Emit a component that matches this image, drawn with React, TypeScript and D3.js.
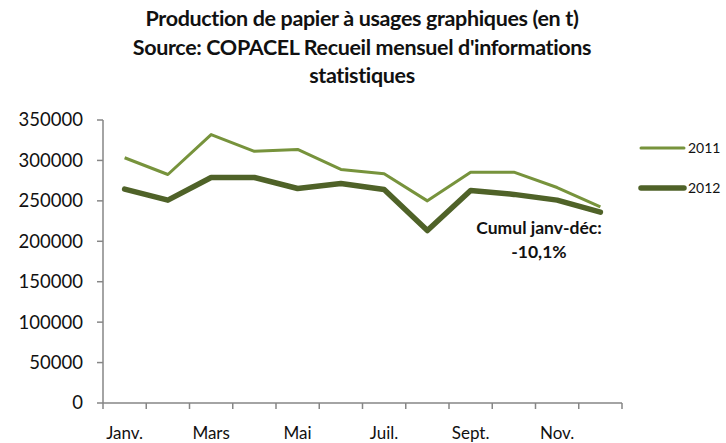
import React from "react";
import * as d3 from "d3";

const months = ["Janv.", "Févr.", "Mars", "Avr.", "Mai", "Juin", "Juil.", "Août", "Sept.", "Oct.", "Nov.", "Déc."];
const shownLabels = ["Janv.", "Mars", "Mai", "Juil.", "Sept.", "Nov."];
const values2011 = [303300, 282600, 332000, 311200, 313600, 288800, 283500, 250000, 285500, 285500, 266500, 242600];
const values2012 = [264500, 250900, 278900, 278900, 265300, 271500, 264000, 213300, 262800, 258000, 250900, 236000];
const yTicks = [0, 50000, 100000, 150000, 200000, 250000, 300000, 350000];
const titleLines = [
  "Production de papier à usages graphiques (en t)",
  "Source: COPACEL Recueil mensuel d'informations",
  "statistiques",
];
const annotation = ["Cumul janv-déc:", "-10,1%"];
const seriesNames = ["2011", "2012"];

export default function App() {
  const W = 726, H = 443;
  const left = 103, right = 622, top = 120, bottom = 403;
  const x = d3.scaleBand<string>().domain(months).range([left, right]).padding(0);
  const y = d3.scaleLinear().domain([0, 350000]).range([bottom, top]);
  const cx = (m: string) => (x(m) as number) + x.bandwidth() / 2;
  const line = d3
    .line<number>()
    .x((_, i) => cx(months[i]))
    .y((d) => y(d));
  const font = "Lato, 'Open Sans', sans-serif";
  const axisColor = "#868686";
  const boundaries = months.map((m) => x(m) as number).concat([right]);

  return (
    <svg width={W} height={H} style={{ position: "absolute", left: 0, top: 0, background: "#fff" }} fontFamily={font}>
      {titleLines.map((t, i) => (
        <text key={i} x={362} y={26 + i * 28.5} textAnchor="middle" fontSize={21.5} fontWeight="bold" fill="#111" letterSpacing={-0.35}>
          {t}
        </text>
      ))}
      {/* y axis */}
      <line x1={left} x2={left} y1={top} y2={bottom} stroke={axisColor} strokeWidth={1.5} />
      {yTicks.map((t) => (
        <g key={t}>
          <line x1={left - 6} x2={left} y1={y(t)} y2={y(t)} stroke={axisColor} strokeWidth={1.5} />
          <text x={83} y={y(t)} dy="0.35em" textAnchor="end" fontSize={18.5} fill="#111">
            {t}
          </text>
        </g>
      ))}
      {/* x axis */}
      <line x1={left} x2={right} y1={bottom} y2={bottom} stroke={axisColor} strokeWidth={1.5} />
      {boundaries.map((b, i) => (
        <line key={i} x1={b} x2={b} y1={bottom} y2={bottom + 6} stroke={axisColor} strokeWidth={1.5} />
      ))}
      {shownLabels.map((m) => (
        <text key={m} x={cx(m)} y={439} textAnchor="middle" fontSize={17} fill="#111">
          {m}
        </text>
      ))}
      <path d={line(values2011) || ""} fill="none" stroke="#77933C" strokeWidth={3} strokeLinejoin="round" />
      <path d={line(values2012) || ""} fill="none" stroke="#4F6228" strokeWidth={5.5} strokeLinejoin="round" strokeLinecap="round" />
      {/* legend */}
      <line x1={641} x2={684} y1={148} y2={148} stroke="#77933C" strokeWidth={3} strokeLinecap="round" />
      <text x={688} y={148} dy="0.35em" fontSize={14} fill="#111">{seriesNames[0]}</text>
      <line x1={641} x2={684} y1={188} y2={188} stroke="#4F6228" strokeWidth={5.5} strokeLinecap="round" />
      <text x={688} y={188} dy="0.35em" fontSize={14} fill="#111">{seriesNames[1]}</text>
      {/* annotation */}
      {annotation.map((t, i) => (
        <text key={i} x={539} y={234 + i * 24} textAnchor="middle" fontSize={17.5} fontWeight="bold" fill="#111">
          {t}
        </text>
      ))}
    </svg>
  );
}
